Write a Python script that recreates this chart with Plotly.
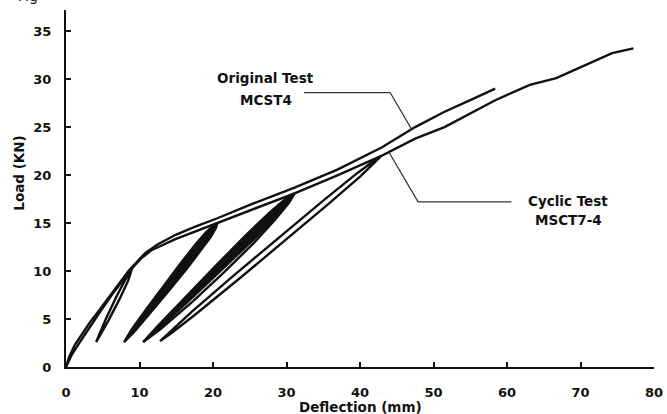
import plotly.graph_objects as go

# ---------------- data ----------------
x_ticks = [0, 10, 20, 30, 40, 50, 60, 70, 80]
y_ticks = [0, 5, 10, 15, 20, 25, 30, 35]

# Original monotonic test MCST4
orig_x = [0, 0.4, 1.2, 2.2, 3.2, 4.6, 6.5, 8.5, 9.6, 10.8, 12.5, 15.0, 17.5, 20.6,
          25.0, 31.1, 37.0, 43.0, 47.5, 51.5, 55.0, 58.4]
orig_y = [0, 1.0, 2.3, 3.5, 4.6, 6.0, 8.0, 10.0, 10.9, 11.9, 12.8, 13.8, 14.6, 15.5,
          16.9, 18.7, 20.6, 22.9, 25.0, 26.6, 27.8, 29.0]

# Cyclic test MSCT7-4 (envelope + open loops 1 and 4)
cyc_x = [0, 0.8, 1.8, 3.0, 4.5, 6.5, 9.0,
         8.09, 6.80, 5.39, 4.1, 5.75, 7.28, 8.45, 9.0,
         10.2, 11.7, 14.8, 17.5, 20.6,
         25.8, 31.1,
         37.0, 42.9,
         41.92, 39.70, 35.12, 29.09, 23.08, 17.13, 14.21, 12.8,
         14.41, 17.51, 23.60, 29.63, 35.64, 40.08, 42.09, 42.9,
         47.5, 51.5, 58.4, 63.1, 66.7, 70.7, 74.3, 77.2]
cyc_y = [0, 1.3, 2.5, 3.9, 5.6, 7.8, 10.3,
         9.13, 7.25, 4.95, 2.6, 4.81, 7.07, 8.99, 10.3,
         11.3, 12.2, 13.3, 14.1, 15.0,
         16.6, 18.1,
         20.0, 22.0,
         21.50, 20.25, 17.42, 13.58, 9.70, 5.78, 3.77, 2.7,
         3.57, 5.42, 9.22, 13.06, 16.94, 19.89, 21.34, 22.0,
         23.8, 25.0, 27.8, 29.4, 30.1, 31.5, 32.7, 33.2]

# Dense (filled) hysteresis loops
loop2_x = [20.6, 20.04, 18.98, 17.63, 15.73, 13.24, 10.79, 8.98, 7.9,
           9.36, 11.37, 14.00, 16.59, 18.49, 19.68, 20.40, 20.6]
loop2_y = [15.0, 14.74, 13.98, 12.79, 10.93, 8.42, 5.88, 3.96, 2.6,
           3.72, 5.52, 7.94, 10.39, 12.25, 13.54, 14.52, 15.0]

loop3_x = [31.1, 29.85, 27.65, 24.52, 20.46, 16.44, 12.44, 10.5,
           12.68, 16.92, 21.14, 25.32, 28.37, 30.29, 31.1]
loop3_y = [18.1, 17.51, 16.07, 13.77, 10.62, 7.45, 4.25, 2.6,
           4.05, 7.06, 10.08, 13.13, 15.49, 17.16, 18.1]

loop3_outer_x = [10.5, 12.83, 17.22, 21.45, 25.57, 28.50, 30.34, 31.1]
loop3_outer_y = [2.6, 3.93, 6.82, 9.83, 12.93, 15.39, 17.11, 18.1]

# Leader lines for the labels
lead1_x = [32.4, 44.1, 47.0]
lead1_y = [28.6, 28.6, 24.8]
lead2_x = [44.0, 47.9, 60.6]
lead2_y = [22.3, 17.2, 17.2]

FONT = "DejaVu Sans"
INK = "#111111"

fig = go.Figure()

line_style = dict(color=INK, width=2.4)

fig.add_trace(go.Scatter(x=loop2_x, y=loop2_y, mode="lines", fill="toself",
                         fillcolor=INK, line=line_style, hoverinfo="skip"))
fig.add_trace(go.Scatter(x=loop3_x, y=loop3_y, mode="lines", fill="toself",
                         fillcolor=INK, line=line_style, hoverinfo="skip"))
fig.add_trace(go.Scatter(x=loop3_outer_x, y=loop3_outer_y, mode="lines",
                         line=line_style, hoverinfo="skip"))
fig.add_trace(go.Scatter(x=cyc_x, y=cyc_y, mode="lines", line=line_style))
fig.add_trace(go.Scatter(x=orig_x, y=orig_y, mode="lines", line=line_style))
fig.add_trace(go.Scatter(x=lead1_x, y=lead1_y, mode="lines",
                         line=dict(color="#333333", width=1.3)))
fig.add_trace(go.Scatter(x=lead2_x, y=lead2_y, mode="lines",
                         line=dict(color="#333333", width=1.3)))

lab_font = dict(family=FONT, size=13.5, color=INK, weight="bold")
for txt, xx, yy in [("Original Test", 27.2, 30.1), ("MCST4", 27.2, 27.8),
                    ("Cyclic Test", 68.3, 17.3), ("MSCT7-4", 68.4, 15.3)]:
    fig.add_annotation(x=xx, y=yy, xref="x", yref="y", text=txt, showarrow=False,
                       font=lab_font, xanchor="center", yanchor="middle")

axis_title_font = dict(family=FONT, size=13.5, color=INK, weight="bold")
fig.add_annotation(x=-0.079, y=0.543, xref="paper", yref="paper", text="Load (KN)",
                   textangle=-90, showarrow=False, font=axis_title_font,
                   xanchor="center", yanchor="middle")
fig.add_annotation(x=0.501, y=-0.112, xref="paper", yref="paper", text="Deflection (mm)",
                   showarrow=False, font=axis_title_font,
                   xanchor="center", yanchor="middle")
# fragment of the caption cut off at the top edge
fig.add_annotation(x=-0.085, y=1.010, xref="paper", yref="paper", text="Fig",
                   showarrow=False, font=dict(family=FONT, size=14, color=INK),
                   xanchor="left", yanchor="bottom")

tick_font = dict(family=FONT, size=13, color=INK, weight="bold")
fig.update_xaxes(range=[0, 80], tickvals=x_ticks, ticktext=[str(v) for v in x_ticks],
                 showline=True, linecolor=INK, linewidth=2, ticks="inside", ticklen=5,
                 tickwidth=1.5, tickcolor=INK, showgrid=False, zeroline=False,
                 tickfont=tick_font, ticklabelstandoff=12, ticklabeloverflow="allow")
fig.update_yaxes(range=[0, 37.2], tickvals=y_ticks, ticktext=[str(v) for v in y_ticks],
                 showline=True, linecolor=INK, linewidth=2, ticks="inside", ticklen=5,
                 tickwidth=1.5, tickcolor=INK, showgrid=False, zeroline=False,
                 tickfont=tick_font, ticklabelstandoff=10, ticklabeloverflow="allow")
fig.update_layout(width=667, height=414, margin=dict(l=66, r=4, t=10, b=47),
                  paper_bgcolor="white", plot_bgcolor="white", showlegend=False,
                  hovermode=False)

fig.write_html("out.html", config={"displayModeBar": False},
               post_script="document.body.style.margin='0px';document.body.style.overflow='hidden';")
